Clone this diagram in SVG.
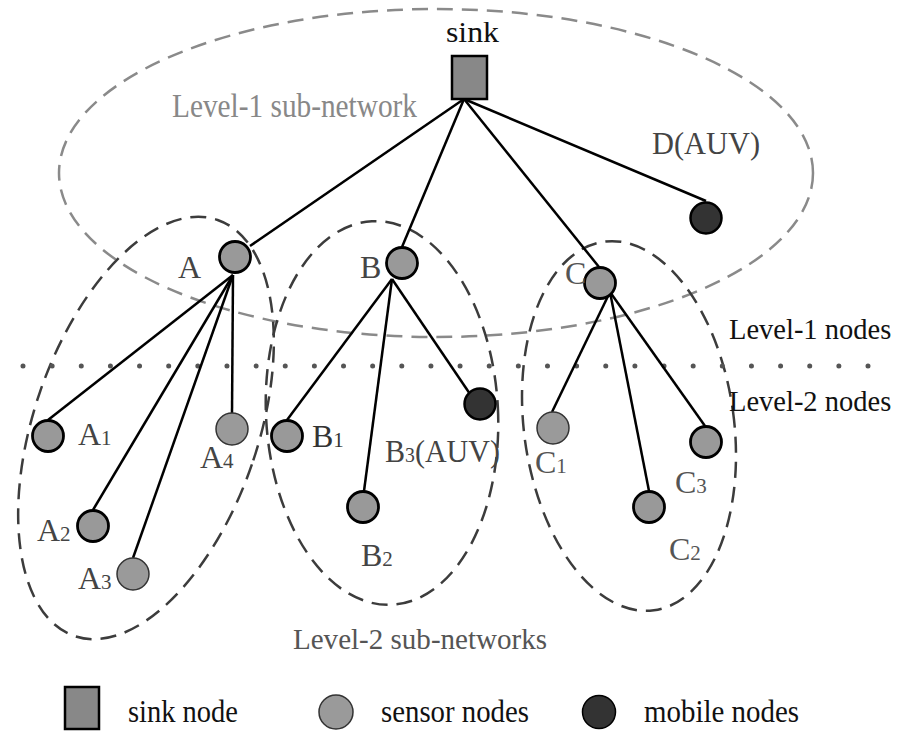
<svg xmlns="http://www.w3.org/2000/svg" width="897" height="733" viewBox="0 0 897 733">
<style>
.bg{fill:#fff}
.l1{fill:none;stroke:#8a8a8a;stroke-width:2.5;stroke-dasharray:16 9}
.l2{fill:none;stroke:#3c3c3c;stroke-width:2.5;stroke-dasharray:16 9}
.dots{stroke:#555;stroke-width:5;stroke-linecap:round;stroke-dasharray:0 29.138}
.e{stroke:#000;stroke-width:2.5;fill:none}
.sink{fill:#888;stroke:#000;stroke-width:2.5}
.sen{fill:#999;stroke:#000;stroke-width:2.8}
.senl{fill:#9a9a9a;stroke:#333;stroke-width:1.5}
.mob{fill:#333;stroke:#000;stroke-width:2.5}
text{font-family:"Liberation Serif","Times New Roman",serif}
.t{font-size:32px;fill:#111}
.lab{font-size:32px;fill:#444}
.sub{font-size:21px}
</style>
<rect class="bg" x="0" y="0" width="897" height="733"/>
<g id="subnetworks">
<ellipse id="level1-subnet" class="l1" cx="436" cy="173" rx="377" ry="164"/>
<ellipse id="subnet-A" class="l2" cx="146" cy="428" rx="112" ry="220" transform="rotate(19 146 428)"/>
<ellipse id="subnet-B" class="l2" cx="382" cy="413" rx="116" ry="192" transform="rotate(-3 382 413)"/>
<ellipse id="subnet-C" class="l2" cx="629" cy="426" rx="105" ry="186" transform="rotate(-7.7 629 426)"/>
</g>
<line id="level-divider" class="dots" x1="23" y1="366" x2="869" y2="366"/>
<g id="connectors" class="e">
<line x1="464" y1="99" x2="250" y2="246"/>
<line x1="464" y1="99" x2="402" y2="247"/>
<line x1="464" y1="99" x2="599" y2="267"/>
<line x1="464" y1="99" x2="706" y2="201"/>
<line x1="233" y1="275" x2="48" y2="420"/>
<line x1="233" y1="275" x2="93" y2="510"/>
<line x1="233" y1="275" x2="133" y2="558"/>
<line x1="233" y1="275" x2="232" y2="413"/>
<line x1="392" y1="279" x2="287" y2="420"/>
<line x1="392" y1="279" x2="364" y2="491"/>
<line x1="392" y1="279" x2="470" y2="394"/>
<line x1="610" y1="292" x2="552" y2="412"/>
<line x1="610" y1="292" x2="649" y2="491"/>
<line x1="610" y1="292" x2="705" y2="426"/>
</g>
<g id="sink"><rect class="sink" x="452" y="56" width="35" height="43"/><text class="t" x="446" y="42" style="font-size:29px" textLength="53" lengthAdjust="spacingAndGlyphs">sink</text></g>
<g id="A"><circle class="sen" cx="235" cy="257" r="15.5"/><text class="lab" x="178" y="278">A</text></g>
<g id="B"><circle class="sen" cx="402" cy="263" r="15.5"/><text class="lab" x="360" y="278">B</text></g>
<g id="C"><circle class="sen" cx="600" cy="283" r="15.5"/><text class="lab" x="565" y="284" style="fill:#555">C</text></g>
<g id="D"><circle class="mob" cx="706" cy="218" r="15.5"/><text class="lab" x="652" y="154" textLength="108" lengthAdjust="spacingAndGlyphs">D(AUV)</text></g>
<g id="A1"><circle class="sen" cx="48" cy="436" r="15.5"/><text class="lab" x="78" y="445">A<tspan class="sub">1</tspan></text></g>
<g id="A2"><circle class="sen" cx="93" cy="526" r="15.5"/><text class="lab" x="37" y="541">A<tspan class="sub">2</tspan></text></g>
<g id="A3"><circle class="senl" cx="133" cy="574" r="16"/><text class="lab" x="78" y="589">A<tspan class="sub">3</tspan></text></g>
<g id="A4"><circle class="senl" cx="232" cy="429" r="16"/><text class="lab" x="200" y="468">A<tspan class="sub">4</tspan></text></g>
<g id="B1"><circle class="sen" cx="287" cy="436" r="15.5"/><text class="lab" x="312" y="447" style="fill:#333">B<tspan class="sub">1</tspan></text></g>
<g id="B2"><circle class="sen" cx="363" cy="507" r="15.5"/><text class="lab" x="361" y="566">B<tspan class="sub">2</tspan></text></g>
<g id="B3"><circle class="mob" cx="480" cy="404" r="15.5"/><text class="lab" x="385" y="462" textLength="115" lengthAdjust="spacingAndGlyphs">B<tspan class="sub">3</tspan>(AUV)</text></g>
<g id="C1"><circle class="senl" cx="553" cy="428" r="16"/><text class="lab" x="535" y="473" style="fill:#555">C<tspan class="sub">1</tspan></text></g>
<g id="C2"><circle class="sen" cx="649" cy="507" r="15.5"/><text class="lab" x="669" y="560" style="fill:#555">C<tspan class="sub">2</tspan></text></g>
<g id="C3"><circle class="sen" cx="706" cy="442" r="15.5"/><text class="lab" x="675" y="493" style="fill:#555">C<tspan class="sub">3</tspan></text></g>
<g id="labels">
<text class="t" x="172" y="117" style="fill:#888;font-size:33px" textLength="245" lengthAdjust="spacingAndGlyphs">Level-1 sub-network</text>
<text class="t" x="729" y="339" style="font-size:28.5px">Level-1 nodes</text>
<text class="t" x="729" y="411" style="font-size:28.5px">Level-2 nodes</text>
<text class="t" x="293" y="649" style="fill:#555;font-size:30px" textLength="254" lengthAdjust="spacingAndGlyphs">Level-2 sub-networks</text>
</g>
<g id="legend">
<rect class="sink" x="65" y="687" width="34" height="42"/>
<text class="t" x="128" y="722" style="font-size:31px" textLength="110" lengthAdjust="spacingAndGlyphs">sink node</text>
<circle class="senl" cx="336" cy="712" r="17"/>
<text class="t" x="381" y="722" style="font-size:31px" textLength="148" lengthAdjust="spacingAndGlyphs">sensor nodes</text>
<circle class="mob" cx="599" cy="712" r="16.5" style="stroke-width:1.5"/>
<text class="t" x="644" y="722" style="font-size:31px" textLength="155" lengthAdjust="spacingAndGlyphs">mobile nodes</text>
</g>
</svg>
